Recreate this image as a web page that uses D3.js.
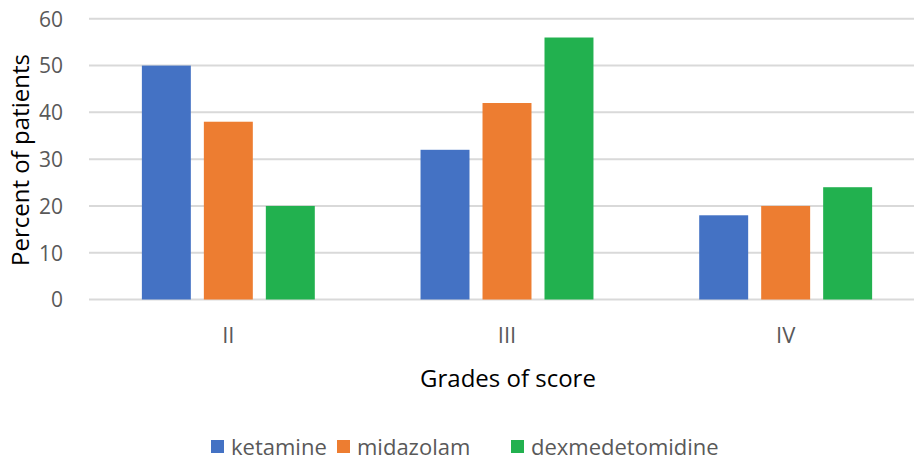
<!DOCTYPE html>
<html>
<head>
<meta charset="utf-8">
<script src="https://cdn.jsdelivr.net/npm/d3@7"></script>
<style>
  html, body { margin: 0; padding: 0; background: #fff; }
  svg { display: block; font-family: "Open Sans", "DejaVu Sans", sans-serif; }
</style>
</head>
<body>
<svg id="chart" width="914" height="461"></svg>
<script>
// Grades of score per sedative, percent of patients
const grades = ["II", "III", "IV"];
const seriesNames = ["ketamine", "midazolam", "dexmedetomidine"];
const ketamine = [50, 32, 18];
const midazolam = [38, 42, 20];
const dexmedetomidine = [20, 56, 24];
const yTicks = [0, 10, 20, 30, 40, 50, 60];
const colors = ["#4472c4", "#ed7d31", "#22b14f"];

const seriesValues = [ketamine, midazolam, dexmedetomidine];
const rows = grades.map((g, i) => ({
  grade: g,
  values: seriesNames.map((s, j) => ({ series: s, value: seriesValues[j][i] }))
}));

const svg = d3.select("#chart");
const plot = { left: 89, right: 925, top: 18.8, bottom: 299.5 };

const x = d3.scaleBand().domain(grades).range([plot.left, plot.right]).paddingInner(0).paddingOuter(0);
const xInner = d3.scaleBand().domain(seriesNames)
  .range([0, x.bandwidth()]).paddingInner(0.21).paddingOuter(0.853);
const y = d3.scaleLinear().domain([0, 60]).range([plot.bottom, plot.top]);
const color = d3.scaleOrdinal().domain(seriesNames).range(colors);

// horizontal gridlines
svg.append("g")
  .selectAll("line")
  .data(yTicks)
  .join("line")
  .attr("x1", plot.left)
  .attr("x2", plot.right)
  .attr("y1", d => y(d))
  .attr("y2", d => y(d))
  .attr("stroke", "#d9d9d9")
  .attr("stroke-width", 2);

// y tick labels
const yAxis = d3.axisLeft(y).tickValues(yTicks).tickSize(0).tickPadding(0);
const yG = svg.append("g").attr("transform", `translate(63,0)`).call(yAxis);
yG.select(".domain").remove();
yG.selectAll("text")
  .attr("fill", "#595959")
  .style("font-size", "21px")
  .style("font-family", "\"Open Sans\", sans-serif")
  .attr("dy", "0.35em");

// bars
const groups = svg.append("g")
  .selectAll("g")
  .data(rows)
  .join("g")
  .attr("transform", d => `translate(${x(d.grade)},0)`);

groups.selectAll("rect")
  .data(d => d.values)
  .join("rect")
  .attr("x", d => xInner(d.series))
  .attr("width", xInner.bandwidth())
  .attr("y", d => y(d.value))
  .attr("height", d => y(0) - y(d.value))
  .attr("fill", d => color(d.series));

// category labels
const xAxis = d3.axisBottom(x).tickSize(0).tickPadding(0);
const xG = svg.append("g").attr("transform", `translate(0,343)`).call(xAxis);
xG.select(".domain").remove();
xG.selectAll("text")
  .attr("fill", "#595959")
  .attr("dy", 0)
  .style("font-size", "22px")
  .style("font-family", "\"Open Sans\", sans-serif");

// axis titles
svg.append("text")
  .attr("x", 508)
  .attr("y", 387)
  .attr("text-anchor", "middle")
  .attr("fill", "#000")
  .style("font-size", "24px")
  .text("Grades of score");

svg.append("text")
  .attr("transform", `translate(29,160) rotate(-90)`)
  .attr("text-anchor", "middle")
  .attr("fill", "#000")
  .style("font-size", "24px")
  .text("Percent of patients");

// legend
const legendX = [211, 337, 511];
const legend = svg.append("g")
  .selectAll("g")
  .data(seriesNames)
  .join("g")
  .attr("transform", (d, i) => `translate(${legendX[i]},440)`);

legend.append("rect")
  .attr("width", 13)
  .attr("height", 13)
  .attr("fill", d => color(d));

legend.append("text")
  .attr("x", 20)
  .attr("y", 15)
  .attr("fill", "#595959")
  .style("font-size", "22px")
  .text(d => d);
</script>
</body>
</html>
